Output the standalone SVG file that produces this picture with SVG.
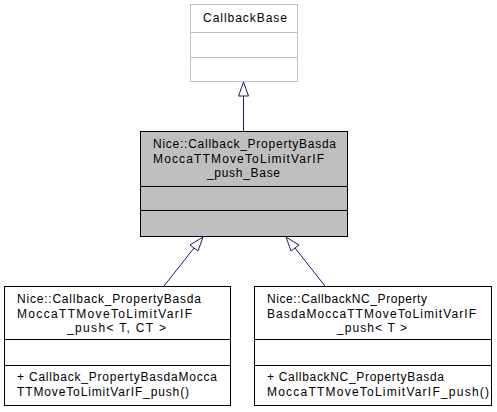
<svg xmlns="http://www.w3.org/2000/svg" width="497" height="412" viewBox="0 0 497 412">
<style>
text{font-family:"Liberation Sans",Arial,sans-serif;font-size:12px;fill:#000}
.c{text-anchor:middle}
.box{fill:#fff;stroke:#000;stroke-width:1}
.grey{fill:#fff;stroke:#bfbfbf;stroke-width:1}
.sel{fill:#bfbfbf;stroke:#000;stroke-width:1}
.edge{stroke:#191970;stroke-width:1;fill:none}
.head{fill:#fff;stroke:#191970;stroke-width:1}
</style>
<rect width="497" height="412" fill="#fff"/>
<g id="CallbackBase">
<rect class="grey" x="190.5" y="4.5" width="107" height="77"/>
<line class="grey" x1="190.5" y1="32.5" x2="297.5" y2="32.5"/>
<line class="grey" x1="190.5" y1="57.5" x2="297.5" y2="57.5"/>
<text x="203" y="22" textLength="84" lengthAdjust="spacing">CallbackBase</text>
</g>
<g id="Base">
<rect class="sel" x="140.5" y="131.5" width="207" height="105"/>
<line class="sel" x1="140.5" y1="186.5" x2="347.5" y2="186.5"/>
<line class="sel" x1="140.5" y1="210.5" x2="347.5" y2="210.5"/>
<text x="153" y="148" textLength="183" lengthAdjust="spacing">Nice::Callback_PropertyBasda</text>
<text x="153" y="163" textLength="171" lengthAdjust="spacing">MoccaTTMoveToLimitVarIF</text>
<text x="207" y="177" textLength="73" lengthAdjust="spacing">_push_Base</text>
</g>
<g id="Push">
<rect class="box" x="4.5" y="286.5" width="226" height="119"/>
<line class="box" x1="4.5" y1="339.5" x2="230.5" y2="339.5"/>
<line class="box" x1="4.5" y1="365.5" x2="230.5" y2="365.5"/>
<text x="17" y="303" textLength="184" lengthAdjust="spacing">Nice::Callback_PropertyBasda</text>
<text x="17" y="318" textLength="175" lengthAdjust="spacing">MoccaTTMoveToLimitVarIF</text>
<text x="67" y="332" textLength="99" lengthAdjust="spacing">_push&lt; T, CT &gt;</text>
<text x="17" y="381" textLength="200" lengthAdjust="spacing">+ Callback_PropertyBasdaMocca</text>
<text x="17" y="396" textLength="172" lengthAdjust="spacing">TTMoveToLimitVarIF_push()</text>
</g>
<g id="PushNC">
<rect class="box" x="254.5" y="286.5" width="237" height="119"/>
<line class="box" x1="254.5" y1="339.5" x2="491.5" y2="339.5"/>
<line class="box" x1="254.5" y1="365.5" x2="491.5" y2="365.5"/>
<text x="267" y="303" textLength="160" lengthAdjust="spacing">Nice::CallbackNC_Property</text>
<text x="267" y="318" textLength="209" lengthAdjust="spacing">BasdaMoccaTTMoveToLimitVarIF</text>
<text x="337" y="332" textLength="70" lengthAdjust="spacing">_push&lt; T &gt;</text>
<text x="267" y="381" textLength="177" lengthAdjust="spacing">+ CallbackNC_PropertyBasda</text>
<text x="267" y="396" textLength="222" lengthAdjust="spacing">MoccaTTMoveToLimitVarIF_push()</text>
</g>
<g id="connectors">
<line class="edge" x1="243.5" y1="131" x2="243.5" y2="96"/>
<polygon class="head" points="243.5,82 238.5,96 248.5,96"/>
<line class="edge" x1="164" y1="286" x2="194" y2="248"/>
<polygon class="head" points="203,237 190,245 198,251"/>
<line class="edge" x1="325" y1="286" x2="295" y2="248"/>
<polygon class="head" points="286,237 291,251 299,245"/>
</g>
</svg>
